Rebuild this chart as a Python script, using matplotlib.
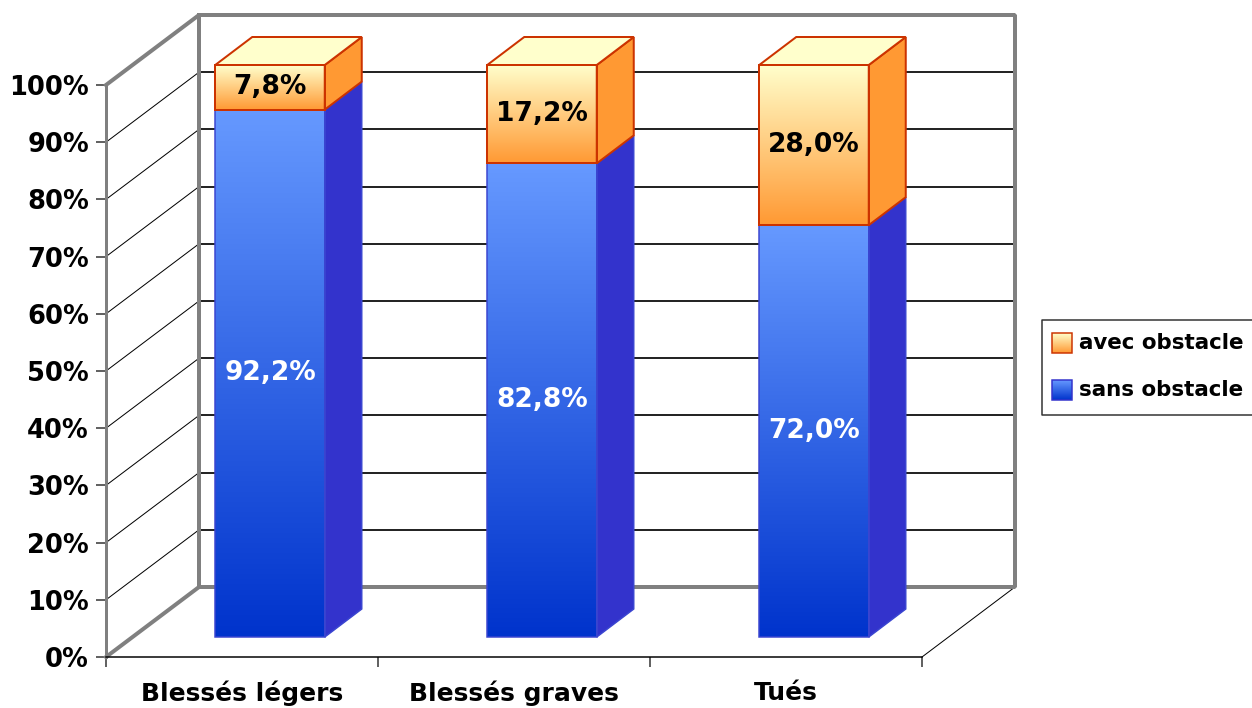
import numpy as np
import matplotlib
matplotlib.use("Agg")
import matplotlib.pyplot as plt
from matplotlib.colors import LinearSegmentedColormap
from matplotlib.patches import Polygon, Rectangle

categories = ["Blessés légers", "Blessés graves", "Tués"]
sans_obstacle = [92.2, 82.8, 72.0]
avec_obstacle = [7.8, 17.2, 28.0]
y_ticks = list(range(0, 101, 10))

W, H = 1252, 708
PX = 0.72  # one pixel in points at dpi 100
GREY = "#808080"
FONT = "DejaVu Sans"

# 3D look, in data units (x: categories, y: percent)
X_UNIT, Y_UNIT = 272, 5.72
WALL_DX, WALL_DY = 93 / X_UNIT, 70 / Y_UNIT
BAR_DX, BAR_DY = 28 / X_UNIT, 20 / Y_UNIT
DEPTH_X, DEPTH_Y = 37 / X_UNIT, 28 / Y_UNIT
BAR_W = 109.5 / X_UNIT

blue_cmap = LinearSegmentedColormap.from_list("blue", ["#6699FF", "#0033CC"])
orange_cmap = LinearSegmentedColormap.from_list("orange", ["#FFFFCC", "#FF9933"])
gradient = np.linspace(0, 1, 256)[:, None]

plt.rcParams["font.family"] = FONT
fig = plt.figure(figsize=(W / 100, H / 100), dpi=100)
ax = fig.add_axes([106 / W, (H - 657) / H, 816 / W, 572 / H])
ax.patch.set_visible(False)


def draw_segment(x0, bottom, top, cmap, side_color, edge, edge_w):
    x1 = x0 + BAR_W
    ax.imshow(gradient, cmap=cmap, extent=(x0, x1, bottom, top), origin="upper",
              aspect="auto", zorder=3, clip_on=False, vmin=0, vmax=1)
    ax.add_patch(Rectangle((x0, bottom), BAR_W, top - bottom, fc="none", ec=edge,
                           lw=edge_w, zorder=4, clip_on=False))
    side = [(x1, bottom), (x1 + DEPTH_X, bottom + DEPTH_Y),
            (x1 + DEPTH_X, top + DEPTH_Y), (x1, top)]
    ax.add_patch(Polygon(side, fc=side_color, ec=edge, lw=edge_w, zorder=3, clip_on=False))


def pct(v):
    return f"{v:.1f}%".replace(".", ",")


# back wall and side wall
for v in y_ticks[1:]:
    ax.plot([0, WALL_DX], [v, v + WALL_DY], color="black", lw=1 * PX, zorder=1, clip_on=False)
    ax.plot([WALL_DX, 3 + WALL_DX], [v + WALL_DY] * 2, color="black", lw=1.7 * PX, zorder=1, clip_on=False)
ax.plot([0, WALL_DX, 3 + WALL_DX, 3 + WALL_DX, WALL_DX, WALL_DX],
        [100, 100 + WALL_DY, 100 + WALL_DY, WALL_DY, WALL_DY, 100 + WALL_DY],
        color=GREY, lw=4 * PX, zorder=2, clip_on=False, solid_joinstyle="bevel")
ax.plot([0, WALL_DX], [0, WALL_DY], color=GREY, lw=4 * PX, zorder=2, clip_on=False)
ax.plot([3, 3 + WALL_DX], [0, WALL_DY], color="black", lw=1 * PX, zorder=1, clip_on=False)

# bars
for i, (low, high) in enumerate(zip(sans_obstacle, avec_obstacle)):
    x0 = i + 0.5 - BAR_W / 2 + BAR_DX
    x_mid = x0 + BAR_W / 2
    draw_segment(x0, BAR_DY, low + BAR_DY, blue_cmap, "#3333CC", "#3A45D0", 1.5 * PX)
    draw_segment(x0, low + BAR_DY, low + high + BAR_DY, orange_cmap, "#FF9933", "#CC3300", 2 * PX)
    top = [(x0, 100 + BAR_DY), (x0 + DEPTH_X, 100 + BAR_DY + DEPTH_Y),
           (x0 + BAR_W + DEPTH_X, 100 + BAR_DY + DEPTH_Y), (x0 + BAR_W, 100 + BAR_DY)]
    ax.add_patch(Polygon(top, fc="#FFFFCC", ec="#CC3300", lw=2 * PX, zorder=4, clip_on=False))
    ax.text(x_mid, BAR_DY + low / 2, pct(low), color="white", ha="center", va="center",
            fontsize=19, fontweight="bold", zorder=6)
    ax.text(x_mid, BAR_DY + low + high / 2, pct(high), color="black", ha="center", va="center",
            fontsize=19, fontweight="bold", zorder=6)

ax.set_xlim(0, 3)
ax.set_ylim(0, 100)
ax.set_yticks(y_ticks)
ax.set_yticklabels([f"{v}%" for v in y_ticks], fontsize=18.5, fontweight="bold")
ax.set_xticks([0, 1, 2, 3])
ax.set_xticklabels([])
ax.set_xticks([0.5, 1.5, 2.5], minor=True)
ax.set_xticklabels(categories, minor=True, fontsize=18, fontweight="bold")
ax.tick_params(axis="x", which="minor", length=0, pad=17)
ax.tick_params(axis="x", which="major", length=10 * PX, width=1.5 * PX, color="#303030")
ax.tick_params(axis="y", length=10 * PX, width=1.5 * PX, pad=5, color="#303030")
for name in ("top", "right"):
    ax.spines[name].set_visible(False)
ax.spines["left"].set_color(GREY)
ax.spines["left"].set_linewidth(3 * PX)
ax.spines["bottom"].set_color("black")
ax.spines["bottom"].set_linewidth(1.5 * PX)

# legend, built by hand because of the gradient swatches
lg = fig.add_axes([0, 0, 1, 1], zorder=10)
lg.set_xlim(0, W)
lg.set_ylim(H, 0)
lg.axis("off")
lg.patch.set_visible(False)
lg.plot([W, 1042, 1042, W], [320, 320, 415, 415], color="#303030", lw=1.5 * PX)
swatches = [("avec obstacle", orange_cmap, "#CC3300", 343), ("sans obstacle", blue_cmap, "#3333CC", 390)]
for label, cmap, edge, yc in swatches:
    lg.imshow(gradient, cmap=cmap, extent=(1052, 1072, yc + 10, yc - 10), origin="upper",
              aspect="auto", vmin=0, vmax=1)
    lg.add_patch(Rectangle((1052, yc - 10), 20, 20, fc="none", ec=edge, lw=1.5 * PX))
    lg.text(1079, yc, label, fontsize=15.4, fontweight="bold", va="center", ha="left")
lg.set_xlim(0, W)
lg.set_ylim(H, 0)

fig.savefig("out.png", dpi=100)
plt.close(fig)
